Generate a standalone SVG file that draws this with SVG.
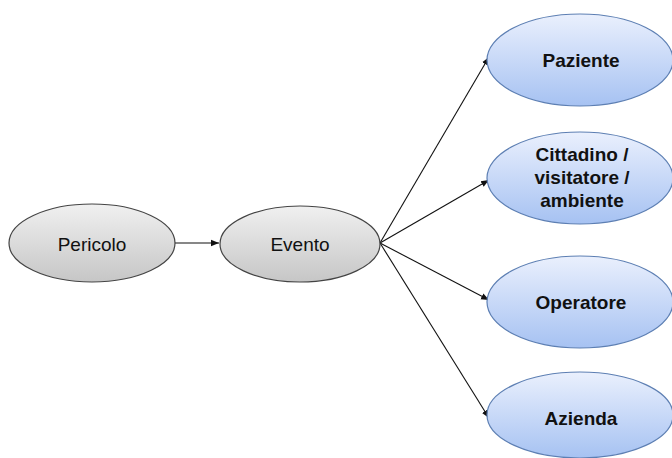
<svg xmlns="http://www.w3.org/2000/svg" width="672" height="458" viewBox="0 0 672 458">
<defs>
<linearGradient id="gGray" x1="0" y1="0" x2="0" y2="1">
<stop offset="0" stop-color="#f0f0f0"/>
<stop offset="1" stop-color="#c6c6c6"/>
</linearGradient>
<linearGradient id="gBlue" x1="0" y1="0" x2="0" y2="1">
<stop offset="0" stop-color="#eaf0fd"/>
<stop offset="1" stop-color="#a6c2f2"/>
</linearGradient>
<marker id="arr" viewBox="0 0 10 10" refX="10" refY="5" markerWidth="8" markerHeight="8" markerUnits="userSpaceOnUse" orient="auto">
<path d="M0,1 L10,5 L0,9 z" fill="#111"/>
</marker>
</defs>
<style>
.gray{fill:url(#gGray);stroke:#444;stroke-width:1.2}
.blue{fill:url(#gBlue);stroke:#5d7fb3;stroke-width:1.2}
.t{font-family:"Liberation Sans",Arial,sans-serif;font-size:19px;fill:#111;text-anchor:middle}
.b{font-family:"Liberation Sans",Arial,sans-serif;font-size:19px;font-weight:bold;fill:#111;text-anchor:middle}
.c{stroke:#111;stroke-width:1.1;fill:none;marker-end:url(#arr)}
</style>
<rect width="672" height="458" fill="#fff"/>
<g id="connectors">
<line class="c" x1="175" y1="243" x2="219" y2="243"/>
<line class="c" x1="380" y1="243" x2="489" y2="57"/>
<line class="c" x1="380" y1="243" x2="489" y2="180"/>
<line class="c" x1="380" y1="243" x2="489" y2="300"/>
<line class="c" x1="380" y1="243" x2="489" y2="418"/>
</g>
<g id="pericolo">
<ellipse class="gray" cx="92" cy="243" rx="83" ry="39"/>
<text class="t" x="92" y="251">Pericolo</text>
</g>
<g id="evento">
<ellipse class="gray" cx="300" cy="244" rx="80" ry="38"/>
<text class="t" x="300" y="251">Evento</text>
</g>
<g id="paziente">
<ellipse class="blue" cx="580" cy="60" rx="93" ry="46"/>
<text class="b" x="581" y="67">Paziente</text>
</g>
<g id="cittadino">
<ellipse class="blue" cx="580" cy="178" rx="93" ry="46"/>
<text class="b" x="582" y="161">Cittadino /</text>
<text class="b" x="582" y="184">visitatore /</text>
<text class="b" x="582" y="207">ambiente</text>
</g>
<g id="operatore">
<ellipse class="blue" cx="580" cy="302" rx="93" ry="46"/>
<text class="b" x="581" y="309">Operatore</text>
</g>
<g id="azienda">
<ellipse class="blue" cx="580" cy="415" rx="93" ry="43"/>
<text class="b" x="581" y="425">Azienda</text>
</g>
</svg>
